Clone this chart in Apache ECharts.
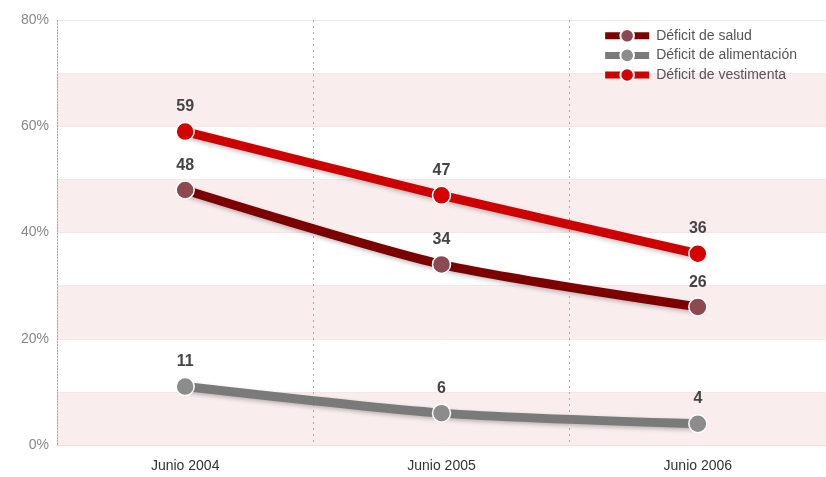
<!DOCTYPE html>
<html><head><meta charset="utf-8">
<script src="https://cdn.jsdelivr.net/npm/echarts@6/dist/echarts.min.js"></script>
<style>html,body{margin:0;padding:0;background:#fff}#c{width:826px;height:477px}</style>
</head><body><div id="c"></div>
<script>
const categories = ['Junio 2004', 'Junio 2005', 'Junio 2006'];
const salud = [48, 34, 26];
const alimentacion = [11, 6, 4];
const vestimenta = [59, 47, 36];
const seriesNames = ['Déficit de salud', 'Déficit de alimentación', 'Déficit de vestimenta'];

const chart = echarts.init(document.getElementById('c'));
function mk(name, data, lineColor, dotColor, z) {
  return {
    name, type: 'line', data, smooth: 0.25, z,
    symbol: 'circle', symbolSize: 18,
    lineStyle: { width: 9, color: lineColor, shadowColor: 'rgba(0,0,0,0.25)', shadowBlur: 4, shadowOffsetY: 2 },
    itemStyle: { color: dotColor, borderColor: '#fff', borderWidth: 1.5 },
    label: { show: true, position: 'top', distance: 7, color: '#444', fontWeight: 'bold', fontSize: 16, fontFamily: 'Liberation Sans, Arial' },
    emphasis: { disabled: true }
  };
}
chart.setOption({
  animation: false,
  textStyle: { fontFamily: 'Liberation Sans, Arial' },
  legend: {
    top: 23, right: 24, orient: 'vertical', itemGap: 4,
    itemWidth: 44, itemHeight: 17, itemStyle: {}, 
    lineStyle: { width: 7, shadowBlur: 0 },
    textStyle: { color: '#555', fontSize: 14, padding: [0, 0, 0, 2] },
    data: seriesNames
  },
  grid: { left: 57, right: 0, top: 20, bottom: 32 },
  xAxis: {
    type: 'category', data: categories, boundaryGap: true,
    axisLine: { lineStyle: { color: '#f2dede' } },
    axisTick: { show: false },
    axisLabel: { color: '#333', fontSize: 14, margin: 14 },
    splitLine: { show: true, lineStyle: { color: '#aaa', type: [2, 4] } }
  },
  yAxis: {
    type: 'value', min: 0, max: 80, interval: 10,
    axisLine: { show: true, lineStyle: { color: '#aaa', type: [2, 4] } },
    axisTick: { show: false },
    axisLabel: { color: '#888', fontSize: 14, margin: 8, formatter: v => (v % 20 === 0 ? v + '%' : '') },
    splitLine: { show: true, lineStyle: { color: '#f6e6e6', width: 1 } },
    splitArea: { show: true, areaStyle: { color: ['#faeded', '#ffffff'] } }
  },
  series: [
    mk(seriesNames[0], salud, '#7d0000', '#8b4a50', 3),
    mk(seriesNames[1], alimentacion, '#7a7a7a', '#8c8c8c', 2),
    mk(seriesNames[2], vestimenta, '#cc0000', '#d50000', 4)
  ]
});
</script></body></html>
